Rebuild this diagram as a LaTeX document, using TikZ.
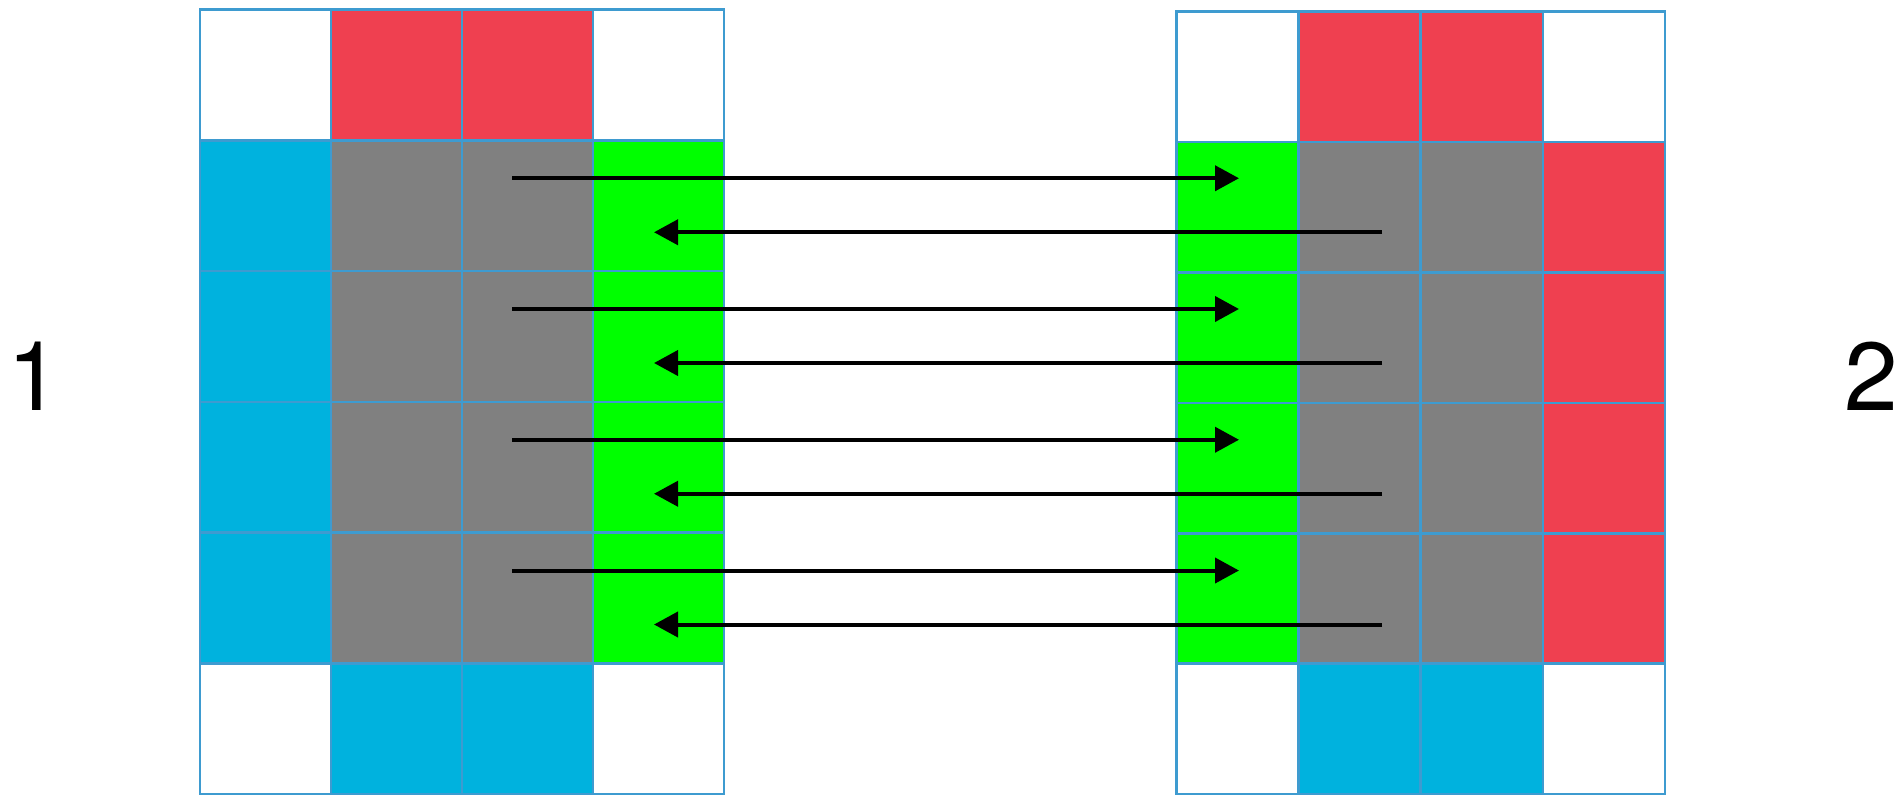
\documentclass[tikz,border=0pt]{standalone}
\usepackage{fontspec}
\setmainfont{TeX Gyre Heros}
\usetikzlibrary{arrows.meta}

\definecolor{cred}{RGB}{239,64,80}
\definecolor{cblue}{RGB}{0,178,222}
\definecolor{cgray}{RGB}{128,128,128}
\definecolor{cgreen}{RGB}{0,255,0}
\definecolor{gridblue}{RGB}{62,155,208}

\tikzset{
  cell/.style={draw=gridblue, line width=0.05cm, inner sep=0pt, outer sep=0pt},
  lcell/.style={cell, minimum width=2.62cm, minimum height=2.615cm},
  rcell/.style={cell, minimum width=2.442cm, minimum height=2.608cm},
  flow/.style={line width=0.08cm, -{Triangle[length=0.48cm, width=0.5cm]}},
  side/.style={inner sep=0pt, anchor=base, font=\fontsize{55}{62}\selectfont}
}

\begin{document}
\begin{tikzpicture}[x=0.02cm, y=-0.02cm]
\useasboundingbox (0,0) rectangle (1904,796);

% Left block
\foreach \r/\fa/\fb/\fc/\fd in {0/white/cred/cred/white,1/cblue/cgray/cgray/cgreen,2/cblue/cgray/cgray/cgreen,3/cblue/cgray/cgray/cgreen,4/cblue/cgray/cgray/cgreen,5/white/cblue/cblue/white}
  \foreach \f [count=\c from 0] in {\fa,\fb,\fc,\fd}
    \node[lcell, fill=\f] (L-\r-\c) at ({200+131*(\c+0.5)},{9.5+130.75*(\r+0.5)}) {};

% Right block
\foreach \r/\fa/\fb/\fc/\fd in {0/white/cred/cred/white,1/cgreen/cgray/cgray/cred,2/cgreen/cgray/cgray/cred,3/cgreen/cgray/cgray/cred,4/cgreen/cgray/cgray/cred,5/white/cblue/cblue/white}
  \foreach \f [count=\c from 0] in {\fa,\fb,\fc,\fd}
    \node[rcell, fill=\f] (R-\r-\c) at ({1176.5+122.1*(\c+0.5)},{11.7+130.4*(\r+0.5)}) {};

% Arrow ends
\foreach \k in {1,...,4}{
  \coordinate (go\k-s) at (512,{9.5+130.75*\k+38});
  \coordinate (go\k-e) at (1239,{9.5+130.75*\k+38});
  \coordinate (back\k-s) at (1382,{9.5+130.75*\k+92});
  \coordinate (back\k-e) at (654,{9.5+130.75*\k+92});
}

% Arrows
\foreach \k in {1,...,4}{
  \draw[flow] (go\k-s) -- (go\k-e);
  \draw[flow] (back\k-s) -- (back\k-e);
}

% Labels
\node[side] (one) at (34,410) {1};
\node[side] (two) at (1871,410) {2};

\end{tikzpicture}
\end{document}
